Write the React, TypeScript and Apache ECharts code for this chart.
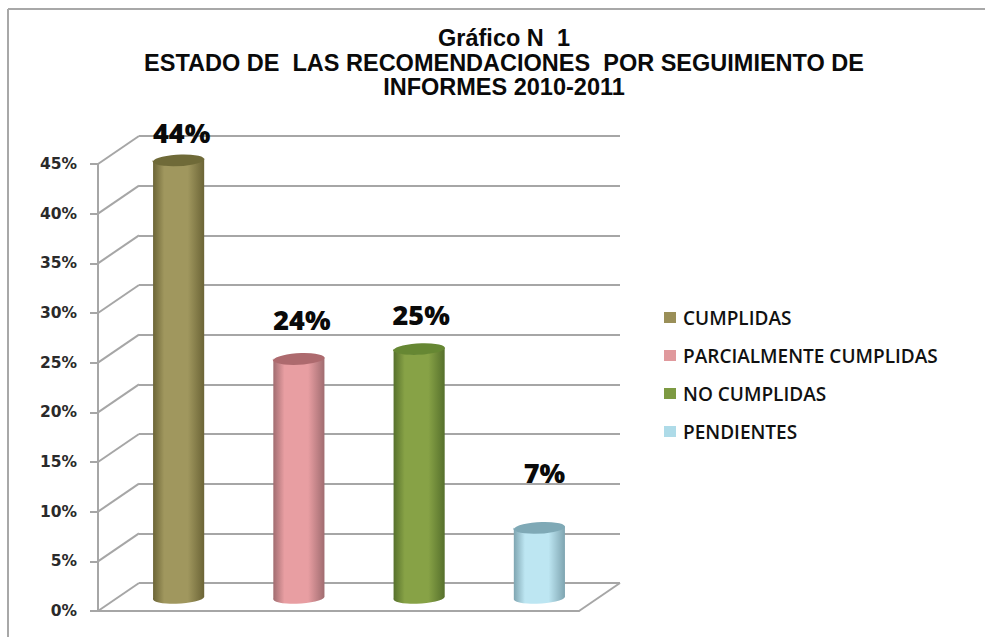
import React, { useEffect, useRef } from "react";
import * as echarts from "echarts";

const slotNames = ["a", "b", "c", "d"];
const seriesNames = ["CUMPLIDAS", "PARCIALMENTE CUMPLIDAS", "NO CUMPLIDAS", "PENDIENTES"];
const seriesValues = [44, 24, 25, 7];
const seriesLabels = ["44%", "24%", "25%", "7%"];
const legendColors = ["#9a8f58", "#e0999d", "#7d9a42", "#aedbe8"];
const edgeColors = ["#6b6436", "#a06c70", "#56702c", "#7ea4b0"];
const midColors = ["#a0975e", "#e89ea2", "#87a246", "#bde6f2"];
const topColors = ["#6f6a38", "#ad6a6e", "#668733", "#7fa9b6"];
const tickValues = [0, 5, 10, 15, 20, 25, 30, 35, 40, 45];
const labelLift = [27, 39, 34, 55];
const labelShift = [3, 3, 2, 5];

const WALL = "#a6a6a6";
const DEPTH_X = 41;
const DEPTH_Y = -28;

// Cylinder standing in the middle plane of the floor, placed by the axis scales.
function cylinder(index: number) {
  return (params: any, api: any) => {
    const top = api.coord([api.value(0), api.value(1)]);
    const base = api.coord([api.value(0), 0]);
    const rx = ((api.size([1, 0])[0] as number) * 0.425) / 2;
    const ry = 6;
    const tilt = 3;
    const dy = rx * Math.sin((tilt * Math.PI) / 180);
    const l = top[0] - rx;
    const r = top[0] + rx;
    const arc = `${rx} ${ry} ${-tilt}`;
    const body =
      `M${l} ${top[1] + dy} L${l} ${base[1] + dy}` +
      ` A${arc} 0 0 ${r} ${base[1] - dy} L${r} ${top[1] - dy}` +
      ` A${arc} 0 1 ${l} ${top[1] + dy} Z`;
    const cap =
      `M${l} ${top[1] + dy} A${arc} 0 1 ${r} ${top[1] - dy}` +
      ` A${arc} 0 1 ${l} ${top[1] + dy} Z`;
    return {
      type: "group",
      children: [
        {
          type: "path",
          shape: { pathData: body },
          style: {
            fill: new echarts.graphic.LinearGradient(0, 0, 1, 0, [
              { offset: 0, color: edgeColors[index] },
              { offset: 0.22, color: midColors[index] },
              { offset: 0.68, color: midColors[index] },
              { offset: 1, color: edgeColors[index] },
            ]),
          },
        },
        { type: "path", shape: { pathData: cap }, style: { fill: topColors[index] } },
        {
          type: "text",
          style: {
            text: seriesLabels[index],
            x: top[0] + labelShift[index],
            y: top[1] - labelLift[index],
            align: "center",
            verticalAlign: "middle",
            font: "800 27px 'Open Sans'",
            fill: "#0a0a0a",
          },
        },
      ],
    };
  };
}

// Depth lines that join the front axis to the back wall at each tick.
function depthLine(params: any, api: any) {
  const p = api.coord([0, api.value(1)]);
  const x = p[0] - (api.size([1, 0])[0] as number) / 2;
  return {
    type: "line",
    shape: { x1: x, y1: p[1], x2: x + DEPTH_X, y2: p[1] + DEPTH_Y },
    style: { stroke: WALL, lineWidth: 2 },
  };
}

// Closing edge of the floor on the right-hand side.
function floorEdge(params: any, api: any) {
  const p = api.coord([3, api.value(1)]);
  const x = p[0] + (api.size([1, 0])[0] as number) / 2;
  return {
    type: "line",
    shape: { x1: x, y1: p[1], x2: x + DEPTH_X, y2: p[1] + DEPTH_Y },
    style: { stroke: WALL, lineWidth: 2 },
  };
}

export default function App() {
  const ref = useRef<HTMLDivElement>(null);
  useEffect(() => {
    document.body.style.margin = "0";
    const chart = echarts.init(ref.current!, undefined, { renderer: "svg" });
    const hiddenX = {
      type: "category" as const,
      data: slotNames,
      axisLine: { show: false },
      axisTick: { show: false },
      axisLabel: { show: false },
    };
    const hiddenY = {
      type: "value" as const,
      min: 0,
      max: 45,
      interval: 5,
      axisLine: { show: false },
      axisTick: { show: false },
      axisLabel: { show: false },
      splitLine: { show: false },
    };
    chart.setOption({
      animation: false,
      backgroundColor: "#ffffff",
      title: {
        text: "Gráfico N  1\nESTADO DE  LAS RECOMENDACIONES  POR SEGUIMIENTO DE\nINFORMES 2010-2011",
        left: 499,
        top: 21,
        textAlign: "center",
        textStyle: {
          fontFamily: "Liberation Sans",
          fontWeight: "bold",
          fontSize: 23.5,
          lineHeight: 24.5,
          color: "#0a0a0a",
        },
      },
      legend: {
        orient: "vertical",
        left: 664,
        top: 308,
        padding: 0,
        itemWidth: 12,
        itemHeight: 11,
        itemGap: 19,
        icon: "rect",
        data: seriesNames.map((name, i) => ({ name, itemStyle: { color: legendColors[i] } })),
        textStyle: {
          fontFamily: "Open Sans",
          fontWeight: 600,
          fontSize: 19,
          color: "#111111",
          lineHeight: 18,
          padding: [0, 0, 0, 2],
        },
      },
      graphic: [
        { type: "line", shape: { x1: 8, y1: 9, x2: 985, y2: 9 }, style: { stroke: "#a8a8a8", lineWidth: 2 } },
        { type: "line", shape: { x1: 8, y1: 9, x2: 8, y2: 637 }, style: { stroke: "#a8a8a8", lineWidth: 2 } },
      ],
      grid: [
        { left: 98, top: 164, width: 481, height: 447 },
        { left: 139, top: 136, width: 481, height: 447 },
        { left: 118.5, top: 150, width: 481, height: 447 },
      ],
      xAxis: [
        {
          ...hiddenX,
          gridIndex: 0,
          axisLine: { show: true, lineStyle: { color: WALL, width: 2 } },
        },
        { ...hiddenX, gridIndex: 1 },
        { ...hiddenX, gridIndex: 2 },
      ],
      yAxis: [
        {
          ...hiddenY,
          gridIndex: 0,
          axisLine: { show: true, lineStyle: { color: WALL, width: 2 } },
          axisTick: { show: true, length: 8, lineStyle: { color: WALL, width: 2 } },
          axisLabel: {
            show: true,
            margin: 21,
            formatter: (v: number) => `${v}%`,
            fontFamily: "DejaVu Sans",
            fontWeight: "bold",
            fontSize: 15.5,
            color: "#2a2a2a",
            padding: [4, 0, 0, 0],
          },
        },
        {
          ...hiddenY,
          gridIndex: 1,
          splitLine: { show: true, lineStyle: { color: WALL, width: 2 } },
        },
        { ...hiddenY, gridIndex: 2 },
      ],
      series: [
        {
          type: "custom",
          name: "depth",
          xAxisIndex: 0,
          yAxisIndex: 0,
          silent: true,
          renderItem: depthLine,
          data: tickValues.map((v) => [0, v]),
        },
        {
          type: "custom",
          name: "floor",
          xAxisIndex: 0,
          yAxisIndex: 0,
          silent: true,
          renderItem: floorEdge,
          data: [[3, 0]],
        },
        ...seriesNames.map((name, i) => ({
          type: "custom",
          name,
          xAxisIndex: 2,
          yAxisIndex: 2,
          renderItem: cylinder(i),
          itemStyle: { color: legendColors[i] },
          encode: { x: 0, y: 1 },
          data: [[i, seriesValues[i]]],
        })),
      ],
    });
    return () => chart.dispose();
  }, []);
  return <div ref={ref} style={{ width: 985, height: 637, position: "relative" }} />;
}
